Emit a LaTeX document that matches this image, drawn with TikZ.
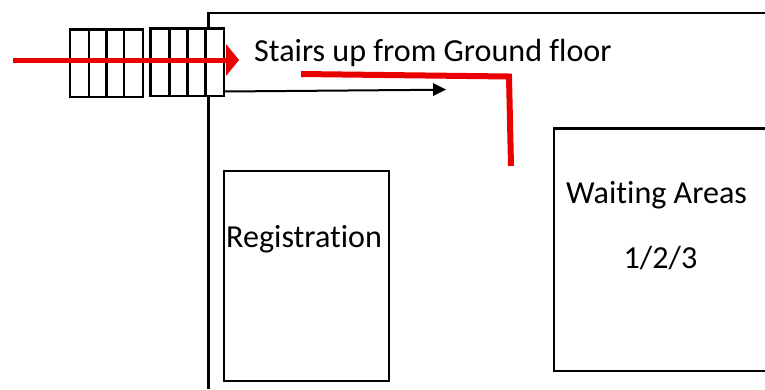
\documentclass[tikz,border=0pt]{standalone}
\usepackage{fontspec}
\setmainfont[Ligatures=NoCommon]{Carlito}
\tikzset{
  x=1pt,y=-1pt,
  wall/.style={draw=black,line width=2.2pt},
  room/.style={draw=black,line width=2.8pt},
  tread/.style={draw=black,line width=2.8pt},
  label/.style={inner sep=0pt,font=\fontsize{32.1}{36}\selectfont,text=black,anchor=base west},
  route/.style={draw=red!92!black,line width=5pt},
  bendroute/.style={draw=red!92!black,line width=6pt,line join=miter},
}
\begin{document}
\begin{tikzpicture}
\useasboundingbox (0,0) rectangle (765,389);
\fill[white] (0,0) rectangle (765,389);
% outer wall
\draw[wall] (208.5,389) -- (208.5,13) -- (766,13);
% rooms
\draw[room] (224,171) rectangle (389,381);
\draw[room] (766,128.5) -- (554,128.5) -- (554,371) -- (766,371);
% stairs
\draw[tread] (70,29.5) rectangle (143,97);
\draw[tread] (89,29.5) -- (89,97) (106.5,29.5) -- (106.5,97) (124,29.5) -- (124,97);
\draw[tread,fill=white] (150.5,28.5) rectangle (224,96);
\draw[tread] (169.5,28.5) -- (169.5,96) (187.5,28.5) -- (187.5,96) (205.5,28.5) -- (205.5,96);
% anchors
\coordinate (blackA) at (224,91.5);
\coordinate (blackB) at (446,89.5);
\coordinate (redA) at (13,60);
\coordinate (redB) at (228,60);
\coordinate (bendA) at (301,74);
\coordinate (bendB) at (509,76.5);
\coordinate (bendC) at (511,166);
\draw[black,line width=2pt] (blackA) -- (434,89.8);
\fill[black] (blackB) -- (433,83) -- (433,96) -- cycle;
\draw[route] (redA) -- (redB);
\fill[red!92!black] (226,44) -- (239,60) -- (226,76) -- cycle;
\draw[bendroute] (bendA) -- (bendB) -- (bendC);
% labels
\node[label] (stairs) at (254,61.5) {Stairs up from Ground floor};
\node[label] (reg) at (226,247.5) {Registration};
\node[label] (wait) at (566,203) {Waiting Areas};
\node[label] (num) at (623.5,268.5) {1/2/3};
\end{tikzpicture}
\end{document}
